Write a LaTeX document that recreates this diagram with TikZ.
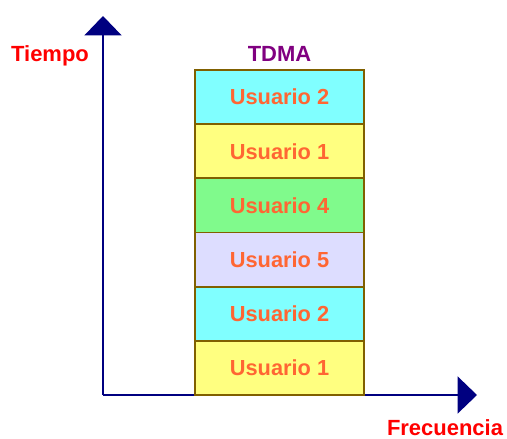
\documentclass[tikz,border=0pt]{standalone}
\usepackage{fontspec}
\setmainfont{Liberation Sans}
\usetikzlibrary{arrows.meta,positioning}

\definecolor{azulEje}{RGB}{0,0,128}
\definecolor{rojoEje}{RGB}{255,0,0}
\definecolor{morado}{RGB}{128,0,128}
\definecolor{naranja}{RGB}{255,102,51}
\definecolor{borde}{RGB}{128,96,0}
\definecolor{cian}{RGB}{128,255,255}
\definecolor{amarillo}{RGB}{255,255,128}
\definecolor{verde}{RGB}{128,250,140}
\definecolor{lila}{RGB}{221,221,255}

\tikzset{
  eje/.style={azulEje, line width=0.85pt, -{Triangle[width=21pt,length=11pt]}},
  etiqueta/.style={font=\fontsize{12.5}{14}\selectfont\bfseries},
  ranura/.style={draw=borde, line width=1.1pt, minimum width=3.38cm,
    minimum height=1.084cm, outer sep=0pt, inner sep=0pt, text=naranja,
    font=\fontsize{12.4}{14}\selectfont\bfseries}
}

\begin{document}
\begin{tikzpicture}[x=0.02cm,y=-0.02cm]
  \useasboundingbox (0,0) rectangle (507,439);
  %\draw[help lines] (0,0) grid (507,439);
  %EJES
  \coordinate (origen) at (103,395);
  \coordinate (tiempo) at (103,16);
  \coordinate (frec) at (477,395);
  \draw[eje] (origen) -- (tiempo);
  \draw[eje] (origen) -- (frec);
  \node[etiqueta, text=rojoEje] (tlab) at (50,56) {Tiempo};
  \node[etiqueta, text=rojoEje] (flab) at (445,428) {Frecuencia};

  %RANURAS TDMA
  \node[ranura, fill=amarillo] (r1) at (279.5,368) {Usuario 1};
  \node[ranura, fill=cian, above=0pt of r1] (r2) {Usuario 2};
  \node[ranura, fill=lila, above=0pt of r2] (r3) {Usuario 5};
  \node[ranura, fill=verde, above=0pt of r3] (r4) {Usuario 4};
  \node[ranura, fill=amarillo, above=0pt of r4] (r5) {Usuario 1};
  \node[ranura, fill=cian, above=0pt of r5] (r6) {Usuario 2};
  \node[etiqueta, text=morado, above=1.5pt of r6] (tdma) {TDMA};
\end{tikzpicture}
\end{document}
